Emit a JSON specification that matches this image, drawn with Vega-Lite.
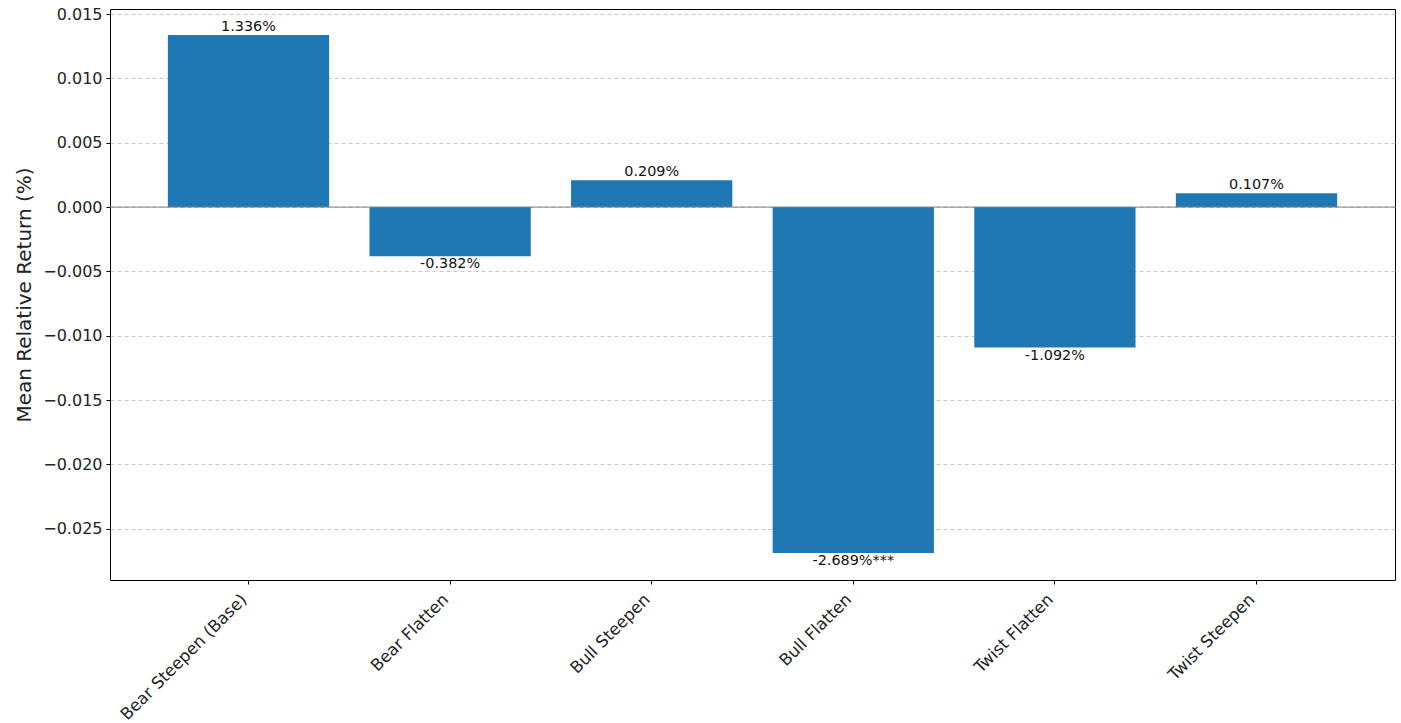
{
  "$schema": "https://vega.github.io/schema/vega-lite/v6.json",
  "autosize": {"type": "none"},
  "padding": {"left": 110, "top": 9, "right": 6, "bottom": 143},
  "width": 1285,
  "height": 571,
  "background": "white",
  "config": {
    "font": "DejaVu Sans",
    "view": {"stroke": "black", "strokeWidth": 1}
  },
  "data": {
    "values": [
      {"regime": "Bear Steepen (Base)", "ret": 0.01336, "label": "1.336%"},
      {"regime": "Bear Flatten", "ret": -0.00382, "label": "-0.382%"},
      {"regime": "Bull Steepen", "ret": 0.00209, "label": "0.209%"},
      {"regime": "Bull Flatten", "ret": -0.02689, "label": "-2.689%***"},
      {"regime": "Twist Flatten", "ret": -0.01092, "label": "-1.092%"},
      {"regime": "Twist Steepen", "ret": 0.00107, "label": "0.107%"}
    ]
  },
  "encoding": {
    "x": {
      "field": "regime", "type": "nominal", "sort": null,
      "scale": {"paddingInner": 0.2, "paddingOuter": 0.287},
      "axis": {
        "title": null, "labelAngle": -45, "labelAlign": "right", "labelBaseline": "top",
        "labelFontSize": 16.5, "labelColor": "#222", "domain": false, "tickColor": "black",
        "tickSize": 4, "labelPadding": 7, "labelOffset": -10, "grid": false
      }
    }
  },
  "layer": [
    {
      "mark": {"type": "bar", "color": "#1f77b4"},
      "encoding": {
        "y": {
          "field": "ret", "type": "quantitative",
          "scale": {"domain": [-0.02898, 0.01539], "nice": false, "zero": false},
          "axis": {
            "title": "Mean Relative Return (%)", "titleFontSize": 20, "titleFontWeight": "normal",
            "titleColor": "#222", "titlePadding": 8,
            "values": [-0.025, -0.02, -0.015, -0.01, -0.005, 0, 0.005, 0.01, 0.015],
            "format": ".3f", "labelFontSize": 16, "labelColor": "#222",
            "domain": false, "tickColor": "black", "tickSize": 4, "labelPadding": 4,
            "grid": true, "gridDash": [4, 3], "gridColor": "#c8c8c8", "gridWidth": 1
          }
        }
      }
    },
    {
      "data": {"values": [{"y": 0}]},
      "mark": {"type": "rule", "color": "#808080", "strokeWidth": 1},
      "encoding": {"y": {"field": "y", "type": "quantitative"}, "x": null}
    },
    {
      "transform": [{"filter": "datum.ret >= 0"}],
      "mark": {"type": "text", "baseline": "bottom", "dy": -1, "fontSize": 14.4, "color": "#111"},
      "encoding": {"y": {"field": "ret", "type": "quantitative"}, "text": {"field": "label"}}
    },
    {
      "transform": [{"filter": "datum.ret < 0"}],
      "mark": {"type": "text", "baseline": "top", "dy": 1, "fontSize": 14.4, "color": "#111"},
      "encoding": {"y": {"field": "ret", "type": "quantitative"}, "text": {"field": "label"}}
    }
  ]
}
